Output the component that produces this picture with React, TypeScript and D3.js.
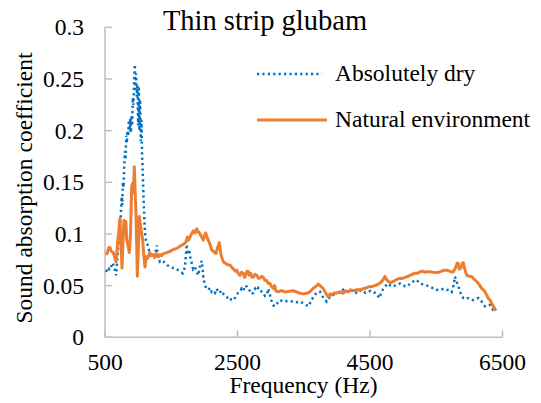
import React from "react";
import * as d3 from "d3";

// [frequency (Hz), sound absorption coefficient]
const dryData: [number, number][] = [
  [511, 0.065], [530, 0.064], [545, 0.063], [560, 0.066], [575, 0.065], [595, 0.069], [616, 0.072], [635, 0.068], [651, 0.065], [666, 0.06], [680, 0.07], [690, 0.08],
  [700, 0.088], [715, 0.095], [726, 0.107], [740, 0.12], [752, 0.136], [760, 0.128], [770, 0.15], [780, 0.145], [790, 0.165], [800, 0.18], [810, 0.172], [820, 0.195], [830, 0.188], [840, 0.2], [850, 0.195], [860, 0.21], [870, 0.2], [880, 0.212], [890, 0.198], [900, 0.215], [910, 0.205], [920, 0.232], [930, 0.225], [940, 0.25], [950, 0.264], [960, 0.24], [970, 0.255], [980, 0.233], [990, 0.245], [1000, 0.205], [1010, 0.243], [1020, 0.2], [1030, 0.23], [1040, 0.19], [1050, 0.21], [1060, 0.175], [1070, 0.16], [1080, 0.139], [1090, 0.12], [1104, 0.101], [1120, 0.093], [1140, 0.09],
  [1179, 0.081], [1200, 0.079], [1230, 0.078], [1255, 0.078], [1280, 0.089], [1300, 0.078], [1330, 0.073], [1370, 0.074], [1406, 0.072], [1440, 0.07], [1481, 0.068], [1530, 0.067], [1582, 0.066], [1630, 0.064], [1673, 0.062], [1708, 0.068], [1733, 0.09], [1750, 0.08], [1772, 0.085], [1790, 0.076], [1809, 0.072], [1830, 0.066], [1858, 0.068], [1880, 0.064], [1908, 0.06], [1930, 0.068], [1960, 0.074], [1975, 0.065], [1984, 0.058],
  [2010, 0.05], [2035, 0.047], [2060, 0.046], [2085, 0.048], [2110, 0.044], [2135, 0.045], [2160, 0.043], [2185, 0.047], [2210, 0.044], [2236, 0.045], [2260, 0.041], [2287, 0.042], [2310, 0.04], [2337, 0.039], [2360, 0.037], [2387, 0.038], [2410, 0.036], [2437, 0.036], [2460, 0.038], [2488, 0.041], [2510, 0.043], [2538, 0.044], [2560, 0.047], [2588, 0.045], [2610, 0.05], [2639, 0.049], [2660, 0.046], [2690, 0.045], [2710, 0.042], [2738, 0.043], [2765, 0.047], [2790, 0.045], [2815, 0.048], [2840, 0.047], [2865, 0.044], [2890, 0.043], [2915, 0.04], [2941, 0.041], [2965, 0.047], [2985, 0.042],
  [3010, 0.036], [3040, 0.031], [3066, 0.03], [3100, 0.033], [3142, 0.036], [3191, 0.0345], [3240, 0.035], [3292, 0.0345], [3340, 0.035], [3390, 0.034], [3443, 0.0345], [3490, 0.033], [3544, 0.031], [3570, 0.03], [3610, 0.035], [3644, 0.039], [3680, 0.042], [3720, 0.044], [3746, 0.044], [3780, 0.04], [3800, 0.038], [3846, 0.0345], [3870, 0.037], [3900, 0.039], [3947, 0.041], [3980, 0.043],
  [4020, 0.043], [4060, 0.045], [4097, 0.046], [4130, 0.044], [4170, 0.044], [4210, 0.046], [4248, 0.044], [4285, 0.043], [4320, 0.046], [4360, 0.045], [4399, 0.045], [4430, 0.043], [4470, 0.044], [4510, 0.045], [4550, 0.044], [4600, 0.042], [4641, 0.038], [4670, 0.043], [4701, 0.047], [4740, 0.05], [4776, 0.052], [4810, 0.05], [4852, 0.049], [4900, 0.051], [4953, 0.052],
  [5000, 0.05], [5054, 0.049], [5090, 0.051], [5130, 0.053], [5170, 0.055], [5205, 0.0555], [5240, 0.053], [5270, 0.052], [5300, 0.051], [5330, 0.0506], [5360, 0.05], [5400, 0.049], [5456, 0.0474], [5500, 0.046], [5557, 0.0458], [5610, 0.047], [5658, 0.0458], [5700, 0.046], [5733, 0.044], [5760, 0.05], [5783, 0.0587], [5800, 0.055], [5818, 0.052], [5840, 0.048], [5858, 0.044], [5885, 0.04], [5908, 0.038], [5945, 0.037], [5984, 0.038],
  [6020, 0.037], [6059, 0.036], [6100, 0.037], [6135, 0.038], [6160, 0.036], [6186, 0.0345], [6210, 0.032], [6236, 0.03], [6270, 0.031], [6311, 0.0313], [6340, 0.028], [6361, 0.0264], [6402, 0.0258],
];

const envData: [number, number][] = [
  [511, 0.08], [530, 0.081], [545, 0.084], [560, 0.087], [575, 0.087], [590, 0.084], [600, 0.083], [625, 0.082], [645, 0.078], [666, 0.073], [680, 0.082], [690, 0.093], [705, 0.1], [726, 0.115], [740, 0.09], [757, 0.067], [770, 0.09], [787, 0.113], [800, 0.108], [815, 0.112], [828, 0.094], [845, 0.09], [867, 0.082], [885, 0.1], [903, 0.146], [918, 0.149], [930, 0.14], [942, 0.165], [955, 0.14], [968, 0.12], [978, 0.09], [988, 0.059], [1000, 0.08], [1018, 0.117], [1030, 0.11], [1039, 0.107], [1055, 0.1], [1069, 0.094], [1085, 0.08], [1104, 0.068],
  [1120, 0.078], [1135, 0.076], [1154, 0.078], [1175, 0.082], [1200, 0.079], [1229, 0.08], [1250, 0.077], [1275, 0.081], [1305, 0.078], [1330, 0.08], [1355, 0.079], [1380, 0.081], [1430, 0.082], [1481, 0.083], [1530, 0.085], [1582, 0.086], [1630, 0.088], [1682, 0.09], [1720, 0.092], [1742, 0.097], [1760, 0.094], [1783, 0.097], [1805, 0.1], [1833, 0.103], [1860, 0.101], [1884, 0.105], [1910, 0.102], [1934, 0.1], [1960, 0.097], [1984, 0.094],
  [2000, 0.098], [2020, 0.101], [2040, 0.097], [2059, 0.094], [2085, 0.09], [2111, 0.0845], [2140, 0.083], [2175, 0.081], [2200, 0.087], [2225, 0.0916], [2250, 0.08], [2286, 0.073], [2310, 0.072], [2330, 0.071], [2360, 0.07], [2387, 0.07], [2410, 0.068], [2440, 0.066], [2465, 0.064], [2488, 0.065], [2510, 0.062], [2538, 0.06], [2560, 0.063], [2588, 0.062], [2605, 0.058], [2625, 0.06], [2645, 0.064], [2663, 0.0635], [2680, 0.06], [2700, 0.062], [2720, 0.058], [2738, 0.058], [2765, 0.061], [2790, 0.06], [2815, 0.057], [2840, 0.0575], [2865, 0.059], [2890, 0.058], [2915, 0.055], [2941, 0.055], [2965, 0.052], [2990, 0.052],
  [3015, 0.049], [3040, 0.0474], [3060, 0.05], [3080, 0.045], [3116, 0.044], [3150, 0.045], [3180, 0.045], [3210, 0.044], [3243, 0.044], [3290, 0.0445], [3342, 0.045], [3390, 0.044], [3443, 0.0426], [3493, 0.042], [3544, 0.0426], [3594, 0.044], [3644, 0.0474], [3680, 0.049], [3720, 0.0516], [3760, 0.049], [3795, 0.047], [3830, 0.043], [3870, 0.039], [3900, 0.042], [3922, 0.041], [3960, 0.043], [3997, 0.0426],
  [4040, 0.044], [4097, 0.0426], [4130, 0.045], [4170, 0.044], [4210, 0.046], [4248, 0.045], [4300, 0.046], [4350, 0.046], [4400, 0.047], [4450, 0.048], [4490, 0.049], [4530, 0.049], [4570, 0.05], [4601, 0.0506], [4640, 0.052], [4677, 0.054], [4700, 0.056], [4726, 0.0587], [4750, 0.056], [4776, 0.054], [4810, 0.053], [4852, 0.054], [4900, 0.056], [4953, 0.057], [4990, 0.057],
  [5030, 0.058], [5070, 0.059], [5104, 0.06], [5140, 0.061], [5180, 0.062], [5220, 0.062], [5255, 0.0635], [5290, 0.064], [5330, 0.063], [5370, 0.0635], [5406, 0.0635], [5450, 0.063], [5507, 0.0626], [5540, 0.063], [5580, 0.064], [5620, 0.065], [5658, 0.065], [5700, 0.064], [5740, 0.063], [5757, 0.0635], [5790, 0.067], [5815, 0.0716], [5833, 0.0716], [5850, 0.066], [5870, 0.067], [5884, 0.0684], [5896, 0.072], [5908, 0.0722], [5935, 0.065], [5960, 0.06],
  [6000, 0.059], [6035, 0.0587], [6075, 0.056], [6110, 0.054], [6150, 0.051], [6186, 0.0474], [6210, 0.046], [6236, 0.044], [6260, 0.041], [6285, 0.0378], [6310, 0.036], [6337, 0.033], [6370, 0.029], [6402, 0.0258],
];

const xTicks = [500, 2500, 4500, 6500];
const yTicks = [0, 0.05, 0.1, 0.15, 0.2, 0.25, 0.3];
const seriesNames = ["Absolutely dry", "Natural environment"];
const titleText = "Thin strip glubam";
const xTitle = "Frequency (Hz)";
const yTitle = "Sound absorption coefficient";

const W = 541;
const H = 403;
const FONT = "'Liberation Serif', 'Times New Roman', serif";
const BLUE = "#0070C0";
const ORANGE = "#ED7D31";
const AXIS = "#BFBFBF";

export default function App() {
  const x = d3.scaleLinear().domain([500, 6500]).range([105, 502.5]);
  const y = d3.scaleLinear().domain([0, 0.3]).range([337.3, 27.3]);
  const line = d3
    .line<[number, number]>()
    .x((d) => x(d[0]))
    .y((d) => y(d[1]));
  const x0 = x.range()[0];
  const x1 = x.range()[1];
  const y0 = y.range()[0];
  const y1 = y.range()[1];

  return (
    <svg
      width={W}
      height={H}
      style={{ position: "absolute", left: 0, top: 0, background: "#fff" }}
      fontFamily={FONT}
    >
      <rect width={W} height={H} fill="#fff" />
      <line x1={x0} x2={x0} y1={y1} y2={y0} stroke={AXIS} strokeWidth={1.5} />
      <line x1={x0} x2={x1} y1={y0} y2={y0} stroke={AXIS} strokeWidth={1.5} />
      {yTicks.map((t) => (
        <g key={"y" + t}>
          <line x1={x0} x2={x0 + 7} y1={y(t)} y2={y(t)} stroke={AXIS} strokeWidth={1.5} />
          <text x={84} y={y(t) + 8} textAnchor="end" fontSize={23.5} fill="#000">
            {String(t)}
          </text>
        </g>
      ))}
      {xTicks.map((t) => (
        <g key={"x" + t}>
          <line x1={x(t)} x2={x(t)} y1={y0} y2={y0 - 7} stroke={AXIS} strokeWidth={1.5} />
          <text x={x(t)} y={370} textAnchor="middle" fontSize={23.5} fill="#000">
            {String(t)}
          </text>
        </g>
      ))}
      <path
        d={line(dryData) || ""}
        fill="none"
        stroke={BLUE}
        strokeWidth={2.5}
        strokeDasharray="2.2 3.2"
      />
      <path
        d={line(envData) || ""}
        fill="none"
        stroke={ORANGE}
        strokeWidth={3}
        strokeLinejoin="round"
      />
      <text x={265} y={29.5} textAnchor="middle" fontSize={28.5} fill="#000">
        {titleText}
      </text>
      <line x1={257} x2={322} y1={74} y2={74} stroke={BLUE} strokeWidth={2.5} strokeDasharray="2.2 3.2" />
      <text x={335} y={81} fontSize={23.5} fill="#000">
        {seriesNames[0]}
      </text>
      <line x1={257} x2={327} y1={120} y2={120} stroke={ORANGE} strokeWidth={3} />
      <text x={335} y={127} fontSize={23.5} fill="#000">
        {seriesNames[1]}
      </text>
      <text x={303.5} y={392.5} textAnchor="middle" fontSize={23.5} fill="#000">
        {xTitle}
      </text>
      <text
        transform="translate(32,188) rotate(-90)"
        textAnchor="middle"
        fontSize={23.5}
        fill="#000"
      >
        {yTitle}
      </text>
    </svg>
  );
}
